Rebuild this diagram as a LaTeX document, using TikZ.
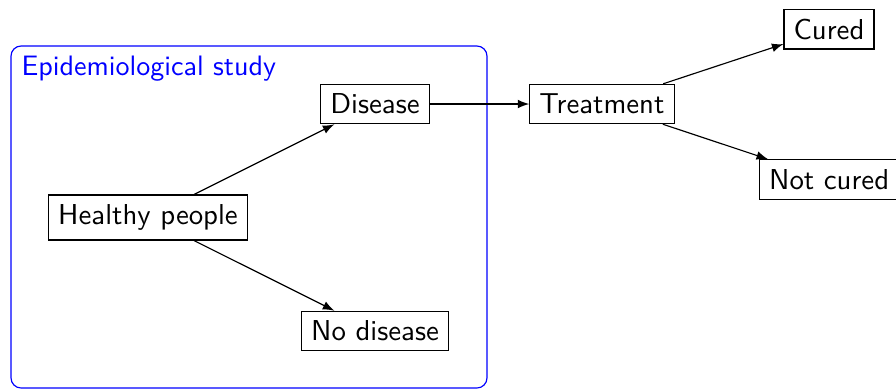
\documentclass[tikz,border=0pt]{standalone}
\usetikzlibrary{arrows}
\renewcommand{\familydefault}{\sfdefault}
\begin{document}
\begin{tikzpicture}[x=0.3472pt, y=-0.3472pt,
    stage/.style={draw, rectangle, font=\sffamily},
    flow/.style={-latex}]
  \useasboundingbox (0,0) rectangle (896,389);

  % the study region
  \draw[blue, rounded corners=3.5pt] (11,46) rectangle (487,388);
  \node[anchor=base west, inner sep=0, text=blue,
        font=\sffamily\fontsize{9.75}{11.5}\selectfont]
    (title) at (21,75) {Epidemiological study};

  % stages
  \node[stage] (healthy)   at (148,217.5) {Healthy people};
  \node[stage] (disease)   at (375,104)   {Disease};
  \node[stage] (nodisease) at (375,331)   {No disease};
  \node[stage] (treat)     at (602,104)   {Treatment};
  \node[stage] (cured)     at (829,29)    {Cured};
  \node[stage, anchor=west] (notcured) at (759,179.5) {Not cured};

  % transitions
  \draw[flow] (healthy) -- (disease);
  \draw[flow] (healthy) -- (nodisease);
  \draw[flow] (disease) -- (treat);
  \draw[flow] (treat) -- (cured);
  \draw[flow] (treat) -- (notcured);
\end{tikzpicture}
\end{document}
